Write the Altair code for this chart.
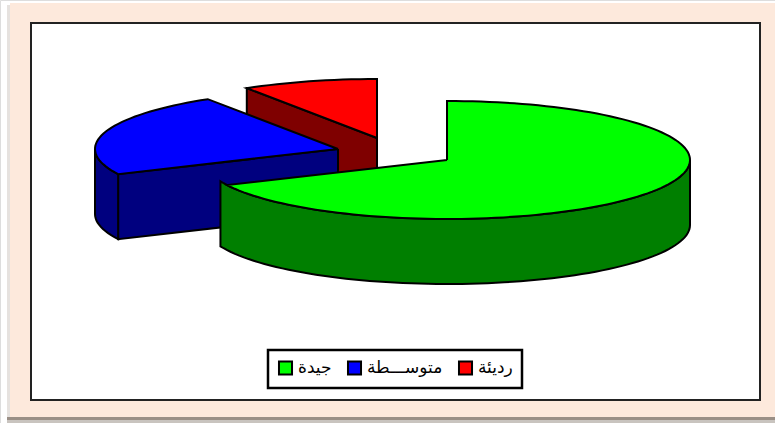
import math
import altair as alt
import pandas as pd

# Survey results shown as an exploded, tilted pie
categories = ["جيدة", "متوســـطة", "رديئة"]
shares = [68, 23, 9]
top_colors = ["#00ff00", "#0000ff", "#ff0000"]
side_colors = ["#007f00", "#00007f", "#7f0000"]

# Pie drawing parameters, in chart units
centers = [(447, 160), (338, 149), (377, 138)]
radius_x = 243
radius_y = 59
depth = 65

W, H = 775, 423


def point(center, theta):
    rad = math.radians(theta)
    return center[0] + radius_x * math.sin(rad), center[1] - radius_y * math.cos(rad)


def arc(center, start, end):
    steps = max(2, int(abs(end - start) / 2))
    return [point(center, start + (end - start) * i / steps) for i in range(steps + 1)]


def drop(points):
    return [(x, y + depth) for x, y in points]


def outer_wall(center, start, end):
    top = arc(center, start, end)
    return top + drop(top)[::-1] + top[:1]


def cut_wall(center, theta):
    edge = [center, point(center, theta)]
    return edge + drop(edge)[::-1] + edge[:1]


def wedge(center, start, end):
    return [center] + arc(center, start, end) + [center]


x_scale = alt.Scale(domain=[0, W], range=[0, W], nice=False, zero=False)
y_scale = alt.Scale(domain=[0, H], range=[0, H], nice=False, zero=False)


def polygon(points, fill):
    frame = pd.DataFrame(points, columns=["x", "y"])
    frame["seq"] = range(len(frame))
    return (
        alt.Chart(frame)
        .mark_line(fill=fill, stroke="#000000", strokeWidth=2, strokeJoin="miter", clip=False)
        .encode(
            x=alt.X("x:Q", scale=x_scale, axis=None),
            y=alt.Y("y:Q", scale=y_scale, axis=None),
            order="seq:Q",
        )
    )


# Slice angles run clockwise from twelve o'clock
g_end = 360 * shares[0] / sum(shares)
b_end = g_end + 360 * shares[1] / sum(shares)

pie_layers = [
    polygon(cut_wall(centers[2], b_end), side_colors[2]),
    polygon(wedge(centers[2], b_end, 360), top_colors[2]),
    polygon(cut_wall(centers[1], g_end), side_colors[1]),
    polygon(outer_wall(centers[1], g_end, 270), side_colors[1]),
    polygon(wedge(centers[1], g_end, b_end), top_colors[1]),
    polygon(outer_wall(centers[0], 90, g_end + 4), side_colors[0]),
    polygon(wedge(centers[0], 0, g_end), top_colors[0]),
]


def panel(x, x2, y, y2, fill, stroke=None, width=0):
    base = dict(fill=fill, strokeWidth=width)
    if stroke:
        base["stroke"] = stroke
    return alt.Chart(pd.DataFrame({"a": [0]})).mark_rect(**base).encode(
        x=alt.value(x), x2=alt.value(x2), y=alt.value(y), y2=alt.value(y2)
    )


# Peach card with a soft shadow, and the white plot area inside it
frame_layers = [
    panel(7, 10, 5, 418, "#e6e2df"),
    panel(10, W, 3, 417, "#fde9dc"),
    panel(7, W, 417, 420, "#9a8f86"),
    panel(7, W, 420, H, "#c9c4bf"),
    panel(31, 760, 23, 400, "#ffffff", "#222222", 2),
]

# Invisible layer that carries the colour legend
legend_layer = (
    alt.Chart(pd.DataFrame({"category": categories, "share": shares}))
    .mark_square(size=0, opacity=1)
    .encode(
        fill=alt.Fill(
            "category:N",
            sort=categories,
            scale=alt.Scale(domain=categories, range=top_colors),
            legend=alt.Legend(
                title=None,
                orient="none",
                legendX=268,
                legendY=350,
                direction="horizontal",
                columns=3,
                symbolType="square",
                symbolSize=170,
                symbolStrokeColor="#000000",
                symbolStrokeWidth=2,
                labelFont="DejaVu Sans",
                labelFontSize=17,
                labelColor="#000000",
                columnPadding=11,
                padding=9,
                strokeColor="#000000",
                fillColor="#ffffff",
            ),
        )
    )
)

chart = (
    alt.layer(*frame_layers, *pie_layers, legend_layer)
    .properties(width=W, height=H, padding=0, background="#ffffff")
    .configure_view(stroke=None)
    .configure(autosize=alt.AutoSizeParams(type="none"))
    .configure_legend(strokeWidth=2.5)
)

chart.save("out.html", embed_options={"renderer": "svg", "actions": False})
